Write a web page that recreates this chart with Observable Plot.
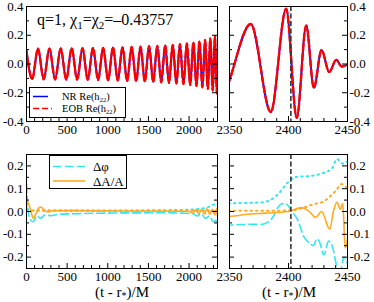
<!DOCTYPE html>
<html><head><meta charset="utf-8">
<script src="https://cdn.jsdelivr.net/npm/d3@7"></script>
<script src="https://cdn.jsdelivr.net/npm/@observablehq/plot@0.6"></script>
<style>
body{margin:0;background:#fff}
#wrap{position:relative;width:374px;height:302px;font-family:"Liberation Serif",serif}
#wrap > svg{position:absolute;left:0;top:0}
</style></head><body><div id="wrap"></div>
<script>
// ---- data ----
const waveT = [0,70,141,212,282,352,421,489,556,623,689,754,818,881,943,1004,1064,1123,1181,1238,1294,1349,1403,1456,1508,1559,1609,1658,1706,1753,1799,1844,1888,1931,1973,2014,2053,2091,2128,2164,2198,2231,2262,2291,2318,2343,2368,2385,2398,2407,2415,2421.5,2428,2434.5,2440.5,2445,2450];
const waveV = [0.09,-0.105,0.106,-0.106,0.107,-0.107,0.108,-0.108,0.109,-0.109,0.110,-0.110,0.111,-0.111,0.112,-0.113,0.114,-0.115,0.116,-0.117,0.118,-0.119,0.120,-0.121,0.123,-0.124,0.126,-0.127,0.129,-0.131,0.133,-0.135,0.138,-0.140,0.143,-0.146,0.150,-0.153,0.157,-0.162,0.167,-0.172,0.178,-0.185,0.193,-0.205,0.278,-0.334,0.385,-0.375,0.268,-0.166,0.097,-0.056,0.029,-0.017,-0.004];

const phiT = [0,15,40,80,130,170,230,300,400,600,800,1000,1200,1400,1600,1800,1950,2050,2100,2150,2200,2250,2300,2330,2350,2360,2378,2386,2393,2397,2403,2408,2413,2418,2421,2424,2426,2430,2434,2437,2441,2444,2447,2450];
const phiV = [0.12,0.02,-0.03,-0.045,-0.02,-0.03,-0.015,-0.018,-0.012,-0.01,-0.008,-0.007,-0.006,-0.006,-0.005,-0.006,-0.008,-0.01,-0.02,-0.01,-0.03,-0.02,-0.045,-0.04,-0.06,-0.057,-0.056,-0.03,0.03,0.036,0.0,-0.04,-0.11,-0.14,-0.15,-0.12,-0.13,-0.19,-0.13,-0.15,-0.24,-0.26,-0.2,-0.23];

const ampT = [0,10,25,55,85,115,150,175,210,260,320,500,800,1200,1600,1900,2000,2050,2080,2120,2155,2190,2220,2255,2285,2315,2340,2350,2365,2380,2400,2411,2417,2423,2428,2435,2438,2441,2444,2446,2448,2450];
const ampV = [0.01,0.045,0.035,0.0,-0.03,-0.01,0.015,0.02,0.01,-0.002,0.003,0.004,0.003,0.002,0.002,0.001,0.0,-0.008,0.008,-0.01,0.01,-0.012,0.012,-0.013,0.01,-0.015,0.012,-0.021,-0.012,-0.007,0.0,0.017,0.003,-0.026,0.0,-0.078,0.0,0.04,0.01,0.036,-0.16,-0.12];

const phiErrT = [0,300,800,1500,2000,2200,2300,2350,2378,2390,2400,2405,2420,2430,2437,2441,2446,2450];
const phiErrV = [0.005,0.004,0.004,0.005,0.008,0.015,0.03,0.036,0.04,0.07,0.13,0.15,0.157,0.17,0.19,0.23,0.21,0.22];

const ampErrT = [0,300,800,1500,2000,2350,2400,2412,2420,2430,2436,2440,2445,2450];
const ampErrV = [0.004,0.004,0.003,0.003,0.003,0.003,0.004,0.015,0.03,0.045,0.07,0.09,0.12,0.10];

const mergerT = 2402;

const topYTicks = [-0.4,-0.2,0,0.2,0.4];
const topYMinor = [-0.3,-0.1,0.1,0.3];
const botYTicks = [-0.2,-0.1,0,0.1,0.2];
const botYMinor = [-0.25,-0.15,-0.05,0.05,0.15,0.25];
const leftXTicks = [0,500,1000,1500,2000];
const leftXMinor = d3.range(100,2350,100).filter(d=>d%500);
const rightXTicks = [2350,2400,2450];
const rightXMinor = [2360,2370,2380,2390,2410,2420,2430,2440];

// ---- helpers ----
const W=374,H=302;
const toRows = (T,V)=>T.map((t,i)=>({t,v:V[i]}));
const wave = toRows(waveT,waveV);
const phi = toRows(phiT,phiV), amp = toRows(ampT,ampV);
const phiErr = toRows(phiErrT,phiErrV), ampErr = toRows(ampErrT,ampErrV);

function panel(o){
  const {fl,fr,ft,fb,xDomain,yDomain,marks,xTicks,xMinor,yTicks,yMinor,yAnchor,yFmt} = o;
  const ux=(xDomain[1]-xDomain[0])/(fr-fl), uy=(yDomain[1]-yDomain[0])/(fb-ft);
  const M=5, m=3;
  const ticks=[
    Plot.ruleX(xTicks,{x:d=>d,y1:yDomain[0],y2:yDomain[0]+M*uy,stroke:"#000"}),
    Plot.ruleX(xMinor,{x:d=>d,y1:yDomain[0],y2:yDomain[0]+m*uy,stroke:"#000"}),
    Plot.ruleY(yTicks,{y:d=>d,x1:xDomain[0],x2:xDomain[0]+M*ux,stroke:"#000"}),
    Plot.ruleY(yTicks,{y:d=>d,x1:xDomain[1]-M*ux,x2:xDomain[1],stroke:"#000"}),
    Plot.ruleY(yMinor,{y:d=>d,x1:xDomain[0],x2:xDomain[0]+m*ux,stroke:"#000"}),
    Plot.ruleY(yMinor,{y:d=>d,x1:xDomain[1]-m*ux,x2:xDomain[1],stroke:"#000"})
  ];
  return Plot.plot({
    width:W,height:H,marginLeft:fl,marginRight:W-fr,marginTop:ft,marginBottom:H-fb,
    x:{domain:xDomain},y:{domain:yDomain},
    style:{background:"transparent",fontFamily:"Liberation Serif, serif",fontSize:"13px",color:"#000",overflow:"visible"},
    marks:[
      ...marks,
      ...ticks,
      Plot.frame({stroke:"#000",strokeWidth:1}),
      Plot.axisX({ticks:xTicks,tickSize:0,tickPadding:3,tickFormat:d=>String(d),label:null,fontSize:13}),
      Plot.axisY({anchor:yAnchor,ticks:yTicks,tickSize:0,tickPadding:yAnchor==="left"?3:2,tickFormat:yFmt,label:null,fontSize:13})
    ]
  });
}

const fmt1 = d=>d.toFixed(1);
const waveMarks = [
  Plot.line(wave,{x:"t",y:"v",stroke:"#0000ff",strokeWidth:2,curve:"monotone-x",clip:true}),
  Plot.line(wave,{x:"t",y:"v",stroke:"#ff0000",strokeWidth:2.4,strokeDasharray:"7,3",curve:"monotone-x",clip:true})
];
const diffMarks = [
  Plot.line(phiErr,{x:"t",y:"v",stroke:"#33e6f2",strokeWidth:2,strokeDasharray:"1.5,4",strokeLinecap:"round",curve:"monotone-x",clip:true}),
  Plot.line(ampErr,{x:"t",y:"v",stroke:"#ffaa22",strokeWidth:2,strokeDasharray:"1.5,4",strokeLinecap:"round",curve:"monotone-x",clip:true}),
  Plot.line(phi,{x:"t",y:"v",stroke:"#33e6f2",strokeWidth:1.6,strokeDasharray:"8,4",curve:"monotone-x",clip:true}),
  Plot.line(amp,{x:"t",y:"v",stroke:"#ffaa22",strokeWidth:1.6,curve:"monotone-x",clip:true})
];
const mergerRule = Plot.ruleX([mergerT],{x:d=>d,stroke:"#333",strokeWidth:1.6,strokeDasharray:"5,2.5"});

const wrap = document.getElementById("wrap");
wrap.append(panel({fl:26,fr:217,ft:6,fb:121,xDomain:[0,2350],yDomain:[-0.4,0.4],marks:waveMarks,
  xTicks:leftXTicks,xMinor:leftXMinor,yTicks:topYTicks,yMinor:topYMinor,yAnchor:"left",yFmt:fmt1}));
wrap.append(panel({fl:229,fr:347,ft:6,fb:121,xDomain:[2350,2450],yDomain:[-0.4,0.4],marks:[...waveMarks,mergerRule],
  xTicks:rightXTicks,xMinor:rightXMinor,yTicks:topYTicks,yMinor:topYMinor,yAnchor:"right",yFmt:fmt1}));
wrap.append(panel({fl:26,fr:217,ft:154,fb:268,xDomain:[0,2350],yDomain:[-0.25,0.25],marks:diffMarks,
  xTicks:leftXTicks,xMinor:leftXMinor,yTicks:botYTicks,yMinor:botYMinor,yAnchor:"left",yFmt:fmt1}));
wrap.append(panel({fl:229,fr:347,ft:154,fb:268,xDomain:[2350,2450],yDomain:[-0.25,0.25],marks:[...diffMarks,mergerRule],
  xTicks:rightXTicks,xMinor:rightXMinor,yTicks:botYTicks,yMinor:botYMinor,yAnchor:"right",yFmt:fmt1}));

// ---- overlay: title, legends, axis titles ----
const svg = d3.select(wrap).append("svg").attr("width",W).attr("height",H)
  .style("font-family","Liberation Serif, serif").style("pointer-events","none");
const title = svg.append("text").attr("x",37).attr("y",25).attr("font-size",16);
title.append("tspan").text("q=1, χ");
title.append("tspan").attr("font-size",11).attr("dy",4).text("1");
title.append("tspan").attr("dy",-4).text("=χ");
title.append("tspan").attr("font-size",11).attr("dy",4).text("2");
title.append("tspan").attr("dy",-4).text("=–0.43757");

// legend top
svg.append("rect").attr("x",29.5).attr("y",87.5).attr("width",96).attr("height",30).attr("fill","#fff").attr("stroke","#000");
svg.append("line").attr("x1",33).attr("x2",48).attr("y1",96.5).attr("y2",96.5).attr("stroke","#0000ff").attr("stroke-width",1.5);
svg.append("line").attr("x1",33).attr("x2",52).attr("y1",108.5).attr("y2",108.5).attr("stroke","#ff0000").attr("stroke-width",1.5).attr("stroke-dasharray","6,3");
function labelH(y,pre){
  const t = svg.append("text").attr("x",62).attr("y",y).attr("font-size",10.5);
  t.append("tspan").text(pre+" Re(h");
  t.append("tspan").attr("font-size",6.5).attr("dy",2.5).text("22");
  t.append("tspan").attr("dy",-2.5).text(")");
}
labelH(99.5,"NR");
labelH(111.5,"EOB");

// legend bottom
svg.append("rect").attr("x",49.5).attr("y",155.5).attr("width",77).attr("height",33).attr("fill","#fff").attr("stroke","#000");
svg.append("line").attr("x1",53).attr("x2",85).attr("y1",166.5).attr("y2",166.5).attr("stroke","#33e6f2").attr("stroke-width",1.6).attr("stroke-dasharray","8,4");
svg.append("line").attr("x1",53).attr("x2",85).attr("y1",181).attr("y2",181).attr("stroke","#ffaa22").attr("stroke-width",1.6);
svg.append("text").attr("x",93).attr("y",171).attr("font-size",13).text("Δφ");
svg.append("text").attr("x",93).attr("y",185.5).attr("font-size",13).text("ΔA/A");

function xTitle(cx){
  const t = svg.append("text").attr("x",cx).attr("y",296.5).attr("font-size",15).attr("text-anchor","middle");
  t.append("tspan").text("(t - r");
  t.append("tspan").attr("font-size",10).attr("dy",2.5).text("*");
  t.append("tspan").attr("dy",-2.5).text(")/M");
}
xTitle(122);
xTitle(289);
</script></body></html>
